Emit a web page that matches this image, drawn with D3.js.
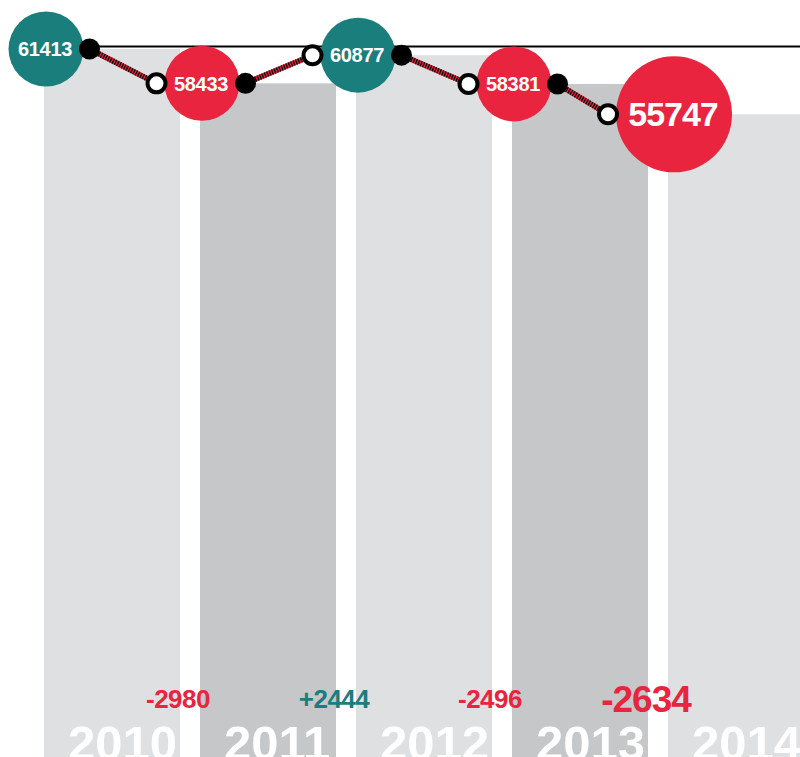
<!DOCTYPE html>
<html>
<head>
<meta charset="utf-8">
<script src="https://cdn.jsdelivr.net/npm/d3@7"></script>
<style>
  html, body { margin: 0; padding: 0; background: #fff; }
  svg { display: block; }
  text { font-family: "Liberation Sans", Arial, sans-serif; font-weight: bold; }
</style>
</head>
<body>
<svg id="chart" width="800" height="757"></svg>
<script>
// ---- data ----
const years = ["2010", "2011", "2012", "2013", "2014"];
const values = [61413, 58433, 60877, 58381, 55747];
const changes = [-2980, 2444, -2496, -2634];

// ---- style ----
const W = 800, H = 757;
const TEAL = "#1a7e7c", RED = "#e8243e";
const BAR_LIGHT = "#dfe0e2", BAR_DARK = "#c6c7c9";

const svg = d3.select("#chart");

const x = d3.scaleBand().domain(years).range([44, 804]).paddingInner(20 / 156).paddingOuter(0);
const y = d3.scaleLinear().domain([0, d3.max(values)]).range([H, 49]);

const data = years.map((yr, i) => ({
  year: yr, value: values[i], i,
  change: i > 0 ? changes[i - 1] : null,
  last: i === years.length - 1
}));

// bars
svg.append("g").selectAll("rect").data(data).join("rect")
  .attr("x", d => x(d.year))
  .attr("y", d => y(d.value))
  .attr("width", x.bandwidth())
  .attr("height", d => H - y(d.value) + 10)
  .attr("fill", d => d.i % 2 ? BAR_DARK : BAR_LIGHT);

// year labels (cut off at bottom edge as in the original)
svg.append("g").selectAll("text").data(data).join("text")
  .attr("x", d => x(d.year) + 24)
  .attr("y", H + 3)
  .attr("font-size", 49)
  .attr("fill", "#fff")
  .text(d => d.year);

// change labels
svg.append("g").selectAll("text").data(changes).join("text")
  .attr("x", (c, i) => x(years[i]) + x.bandwidth() - 2)
  .attr("y", (c, i) => i === changes.length - 1 ? 712 : 708)
  .attr("text-anchor", "middle")
  .attr("font-size", (c, i) => i === changes.length - 1 ? 37 : 26)
  .attr("letter-spacing", (c, i) => i === changes.length - 1 ? -1 : -0.5)
  .attr("fill", c => c < 0 ? RED : TEAL)
  .text(c => (c > 0 ? "+" : "") + c);

// geometry of markers
const radius = d => d.last ? 58 : 37.5;
const cx = d => x(d.year) + (d.last ? 6 : 2);
const cy = d => y(d.value);
const fillDotX = d => cx(d) + radius(d) + 6;
const openDotX = d => cx(d) - radius(d) - 8;

// reference line
svg.append("line")
  .attr("x1", fillDotX(data[0])).attr("x2", W)
  .attr("y1", y(values[0]) - 2.5).attr("y2", y(values[0]) - 2.5)
  .attr("stroke", "#000").attr("stroke-width", 2.2);

// connectors
const segs = d3.pairs(data);
const lg = svg.append("g");
lg.selectAll("line.red").data(segs).join("line")
  .attr("class", "red")
  .attr("x1", p => fillDotX(p[0])).attr("y1", p => cy(p[0]))
  .attr("x2", p => openDotX(p[1])).attr("y2", p => cy(p[1]))
  .attr("stroke", RED).attr("stroke-width", 5.5);
lg.selectAll("line.hatch").data(segs).join("line")
  .attr("class", "hatch")
  .attr("x1", p => fillDotX(p[0])).attr("y1", p => cy(p[0]))
  .attr("x2", p => openDotX(p[1])).attr("y2", p => cy(p[1]))
  .attr("stroke", "#000").attr("stroke-width", 5.5)
  .attr("stroke-dasharray", "1.3,1.3");

// big circles
svg.append("g").selectAll("circle").data(data).join("circle")
  .attr("cx", cx).attr("cy", cy).attr("r", radius)
  .attr("fill", d => (d.change === null || d.change > 0) ? TEAL : RED);

// circle labels
svg.append("g").selectAll("text").data(data).join("text")
  .attr("x", d => cx(d) - 1)
  .attr("y", d => cy(d) + (d.last ? 33 : 20) * 0.36)
  .attr("text-anchor", "middle")
  .attr("font-size", d => d.last ? 34 : 20)
  .attr("letter-spacing", d => d.last ? -1 : -0.3)
  .attr("fill", "#fff")
  .text(d => d.value);

// filled dots (end of each year except last)
svg.append("g").selectAll("circle").data(data.slice(0, -1)).join("circle")
  .attr("cx", fillDotX).attr("cy", cy).attr("r", 10.5)
  .attr("fill", "#000");

// open dots (start of each year except first)
svg.append("g").selectAll("circle").data(data.slice(1)).join("circle")
  .attr("cx", openDotX).attr("cy", cy).attr("r", 9)
  .attr("fill", "#fff").attr("stroke", "#000").attr("stroke-width", 4);
</script>
</body>
</html>
